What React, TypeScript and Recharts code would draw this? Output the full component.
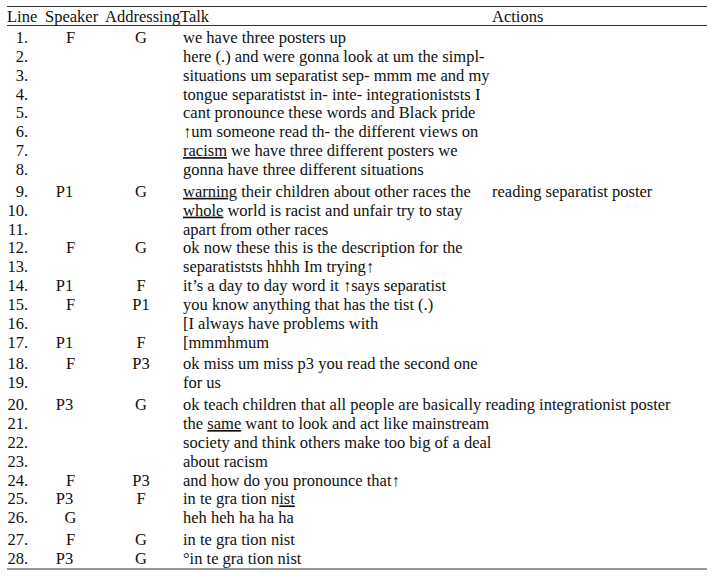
import React from 'react';
import { ScatterChart, Scatter, XAxis, YAxis, ReferenceLine } from 'recharts';

// ---------- data ----------
const lineNumbers = [
  '1.', '2.', '3.', '4.', '5.', '6.', '7.', '8.', '9.', '10.', '11.', '12.', '13.', '14.',
  '15.', '16.', '17.', '18.', '19.', '20.', '21.', '22.', '23.', '24.', '25.', '26.', '27.', '28.',
];
const speakers = [
  'F', '', '', '', '', '', '', '', 'P1', '', '', 'F', '', 'P1',
  'F', '', 'P1', 'F', '', 'P3', '', '', '', 'F', 'P3', 'G', 'F', 'P3',
];
const addressees = [
  'G', '', '', '', '', '', '', '', 'G', '', '', 'G', '', 'F',
  'P1', '', 'F', 'P3', '', 'G', '', '', '', 'P3', 'F', '', 'G', 'G',
];
// words between _ _ are underlined
const talk = [
  'we have three posters up',
  'here (.) and were gonna look at um the simpl-',
  'situations um separatist sep- mmm me and my',
  'tongue separatistst in- inte- integrationiststs I',
  'cant pronounce these words and Black pride',
  '\u2191um someone read th- the different views on',
  '_racism_ we have three different posters we',
  'gonna have three different situations',
  '_warning_ their children about other races the',
  '_whole_ world is racist and unfair try to stay',
  'apart from other races',
  'ok now these this is the description for the',
  'separatiststs hhhh Im trying\u2191',
  'it\u2019s a day to day word it \u2191says separatist',
  'you know anything that has the tist (.)',
  '[I always have problems with',
  '[mmmhmum',
  'ok miss um miss p3 you read the second one',
  'for us',
  'ok teach children that all people are basically',
  'the _same_ want to look and act like mainstream',
  'society and think others make too big of a deal',
  'about racism',
  'and how do you pronounce that\u2191',
  'in te gra tion n_ist_',
  'heh heh ha ha ha',
  'in te gra tion nist',
  '\u00b0in te gra tion nist',
];
const actions = [
  '', '', '', '', '', '', '', '', 'reading separatist poster', '', '', '', '', '',
  '', '', '', '', '', 'reading integrationist poster', '', '', '', '', '', '', '', '',
];
const headers = ['Line', 'Speaker', 'Addressing', 'Talk', 'Actions'];
const turnBreaks = [9, 18, 20, 27];

// ---------- layout ----------
const W = 713;
const H = 576;
const ROW_PX = 18.85;
const GAP_PX = 3;
const FIRST_BASELINE = 43;
const D0 = 1 - FIRST_BASELINE / ROW_PX;
const D1 = D0 + H / ROW_PX;
const toPos = (px: number) => D0 + px / ROW_PX;
const HEADER_POS = toPos(22);
const RULES = [toPos(6.5), toPos(25.5), toPos(569)];
const RULE_X0 = 7;
const RULE_X1 = 707;

const FONT = '"Liberation Serif", "Times New Roman", serif';
const FS = 16.5;
const INK = '#111';

const rowPos = (i: number) => {
  const n = i + 1;
  const gaps = turnBreaks.filter((b) => b <= n).length;
  return n + (gaps * GAP_PX) / ROW_PX;
};

type Cell = { x: number; pos: number; text: string; anchor: 'start' | 'middle' | 'end' };

const lineCells: Cell[] = lineNumbers.map((t, i) => ({ x: 28, pos: rowPos(i), text: t, anchor: 'end' }));
const speakerCells: Cell[] = speakers
  .map((t, i) => ({ x: t.length === 1 ? 70.5 : 64.5, pos: rowPos(i), text: t, anchor: 'middle' as const }))
  .filter((c) => c.text);
const addrCells: Cell[] = addressees
  .map((t, i) => ({ x: 141, pos: rowPos(i), text: t, anchor: 'middle' as const }))
  .filter((c) => c.text);
const talkCells: Cell[] = talk.map((t, i) => ({ x: 183, pos: rowPos(i), text: t, anchor: 'start' }));
const actionCells: Cell[] = actions
  .map((t, i) => ({ x: i === 19 ? 485.5 : 492, pos: rowPos(i), text: t, anchor: 'start' as const }))
  .filter((c) => c.text);
const headerX = [7, 45, 105, 180, 492];
const headerCells: Cell[] = headers.map((t, i) => ({ x: headerX[i], pos: HEADER_POS, text: t, anchor: 'start' }));

const rich = (s: string) =>
  s.split('_').map((seg, k) =>
    k % 2 === 1 ? (
      <tspan key={k} style={{ textDecoration: 'underline' }}>
        {seg}
      </tspan>
    ) : (
      <tspan key={k}>{seg}</tspan>
    )
  );

const TextShape = (props: any) => {
  const { cx, cy, payload } = props;
  if (cx == null || cy == null) return <g />;
  return (
    <text
      x={cx}
      y={cy}
      textAnchor={payload.anchor}
      fontFamily={FONT}
      fontSize={FS}
      fill={INK}
      style={{ whiteSpace: 'pre' }}
    >
      {rich(payload.text)}
    </text>
  );
};

export default function App() {
  const groups = [headerCells, lineCells, speakerCells, addrCells, talkCells, actionCells];
  return (
    <div style={{ position: 'absolute', left: 0, top: 0, width: W, height: H, background: '#fff' }}>
      <ScatterChart width={W} height={H} margin={{ top: 0, right: 0, bottom: 0, left: 0 }}>
        <XAxis type="number" dataKey="x" domain={[0, W]} hide />
        <YAxis type="number" dataKey="pos" domain={[D0, D1]} reversed hide />
        {RULES.map((p, i) => (
          <ReferenceLine
            key={i}
            segment={[
              { x: RULE_X0, y: p },
              { x: RULE_X1, y: p },
            ]}
            stroke="#333"
            strokeWidth={1.2}
          />
        ))}
        {groups.map((g, i) => (
          <Scatter key={i} data={g} shape={TextShape} isAnimationActive={false} />
        ))}
      </ScatterChart>
    </div>
  );
}
